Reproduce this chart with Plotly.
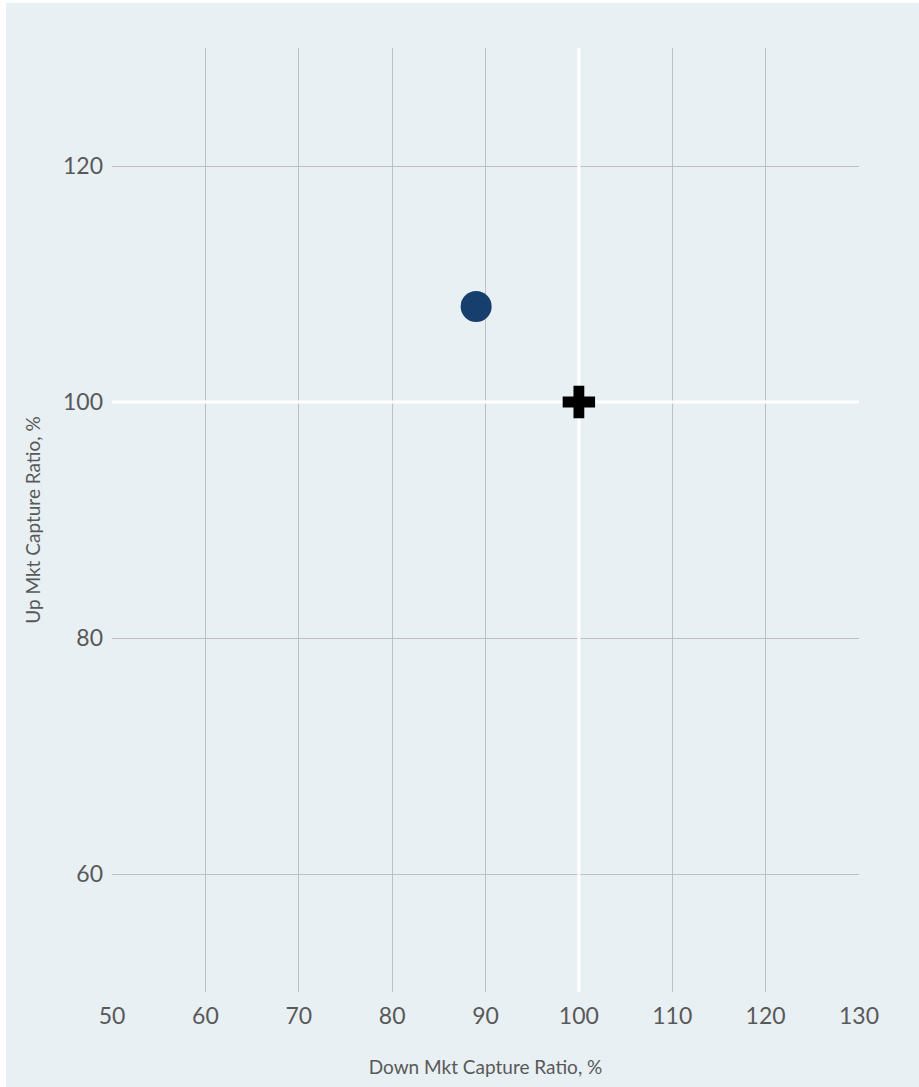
import plotly.graph_objects as go

# Data
fund_down = [89]
fund_up = [108.1]
index_down = [100]
index_up = [100]

x_ticks = [50, 60, 70, 80, 90, 100, 110, 120, 130]
y_ticks = [60, 80, 100, 120]
x_range = [50, 130]
y_range = [50, 130]
ref_x = 100
ref_y = 100

FONT = "Lato"
TXT = "#595959"
GRID = "#BFBFBF"
PANEL = "#E8F0F3"

fig = go.Figure()
# white reference lines at 100 (drawn above the grid, below the markers)
fig.add_trace(go.Scatter(
    x=[ref_x, ref_x], y=y_range, mode="lines",
    line=dict(color="white", width=3), showlegend=False, hoverinfo="skip", cliponaxis=True))
fig.add_trace(go.Scatter(
    x=x_range, y=[ref_y, ref_y], mode="lines",
    line=dict(color="white", width=3), showlegend=False, hoverinfo="skip", cliponaxis=True))

fig.add_trace(go.Scatter(
    x=fund_down, y=fund_up, mode="markers",
    marker=dict(symbol="circle", size=31, color="#173F6E", line=dict(width=0)),
    showlegend=False, hoverinfo="skip"))
fig.add_trace(go.Scatter(
    x=index_down, y=index_up, mode="markers",
    marker=dict(symbol="cross", size=27, color="#000000", line=dict(width=0)),
    showlegend=False, hoverinfo="skip"))

W, H = 919, 1087
L, R, T, B = 112, 60, 48, 95
pw, ph = W - L - R, H - T - B

# panel background (slightly inset from page edges)
fig.add_shape(type="rect", xref="paper", yref="paper",
              x0=(6 - L) / pw, x1=(W + 2 - L) / pw,
              y0=-(H + 2 - T - ph) / ph, y1=(T - 3) / ph + 1,
              fillcolor=PANEL, line=dict(width=0), layer="below")

fig.update_layout(
    width=W, height=H,
    margin=dict(l=L, r=R, t=T, b=B),
    paper_bgcolor="white",
    plot_bgcolor="rgba(0,0,0,0)",
    font=dict(family=FONT, color=TXT),
    xaxis=dict(range=x_range, tickvals=x_ticks, showgrid=True, gridcolor=GRID, gridwidth=1,
               zeroline=False, showline=False, ticks="", tickfont=dict(size=23, color=TXT),
               ticklabelstandoff=8,
               title=dict(text="Down Mkt Capture Ratio, %", font=dict(size=19, color=TXT), standoff=32)),
    yaxis=dict(range=y_range, tickvals=y_ticks, showgrid=True, gridcolor=GRID, gridwidth=1,
               zeroline=False, showline=False, ticks="", tickfont=dict(size=23, color=TXT),
               ticklabelstandoff=8,
               title=dict(text="Up Mkt Capture Ratio, %", font=dict(size=19, color=TXT), standoff=17)),
)

fig.write_html("out.html")
